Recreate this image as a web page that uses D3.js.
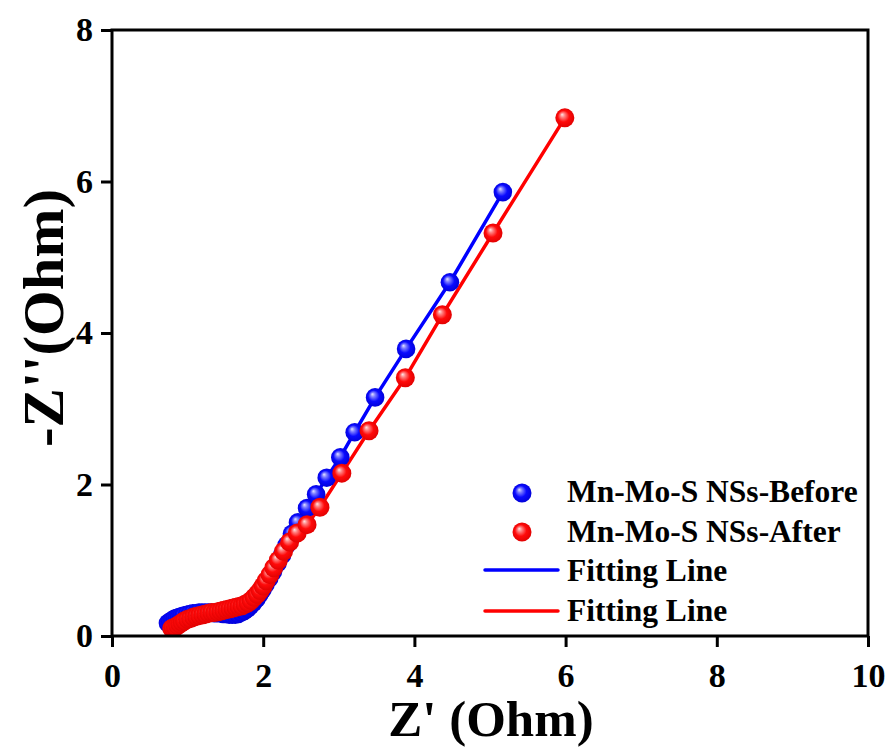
<!DOCTYPE html>
<html>
<head>
<meta charset="utf-8">
<script src="https://cdn.jsdelivr.net/npm/d3@7"></script>
<style>
  html, body { margin: 0; padding: 0; background: #fff; }
  svg { display: block; }
  text { font-family: "Liberation Serif", "Times New Roman", serif; font-weight: bold; fill: #000; }
</style>
</head>
<body>
<svg id="chart" width="892" height="749"></svg>
<script>
// Nyquist data: real part Z' and imaginary part -Z'' (Ohm)
const zReBefore = [0.74,0.77,0.80,0.83,0.86,0.89,0.92,0.95,0.99,1.03,1.07,1.11,1.15,1.19,1.23,1.27,1.31,1.35,1.39,1.43,1.47,1.51,1.55,1.59,1.63,1.67,1.71,1.75,1.79,1.83,1.87,1.91,1.95,1.99,2.03,2.08,2.13,2.19,2.25,2.31,2.38,2.46,2.58,2.70,2.84,3.02,3.21,3.48,3.89,4.47,5.17];
const zImBefore = [0.17,0.19,0.21,0.23,0.24,0.25,0.26,0.27,0.28,0.29,0.30,0.30,0.31,0.31,0.31,0.31,0.31,0.30,0.30,0.30,0.29,0.29,0.28,0.28,0.28,0.29,0.31,0.33,0.36,0.40,0.44,0.49,0.55,0.61,0.68,0.76,0.85,0.96,1.07,1.20,1.35,1.50,1.69,1.87,2.09,2.36,2.69,3.15,3.79,4.67,5.86];

const zReAfter = [0.79,0.81,0.84,0.87,0.90,0.93,0.96,1.00,1.04,1.08,1.12,1.16,1.20,1.24,1.28,1.32,1.36,1.40,1.44,1.48,1.52,1.56,1.60,1.64,1.68,1.72,1.76,1.80,1.84,1.88,1.92,1.96,2.00,2.04,2.09,2.14,2.20,2.27,2.35,2.45,2.58,2.75,3.04,3.40,3.88,4.37,5.04,5.99];
const zImAfter = [0.10,0.11,0.12,0.14,0.16,0.18,0.20,0.22,0.23,0.25,0.26,0.27,0.28,0.29,0.30,0.31,0.31,0.32,0.33,0.34,0.35,0.36,0.37,0.38,0.39,0.40,0.42,0.44,0.47,0.51,0.55,0.60,0.66,0.73,0.81,0.90,1.00,1.12,1.24,1.36,1.47,1.70,2.15,2.71,3.41,4.24,5.32,6.84];

const xTicks = [0, 2, 4, 6, 8, 10];
const yTicks = [0, 2, 4, 6, 8];

const seriesNames = ["Mn-Mo-S NSs-Before", "Mn-Mo-S NSs-After"];
const fitNames = ["Fitting Line", "Fitting Line"];

const svg = d3.select("#chart");
const plot = { left: 112, right: 868, top: 30, bottom: 636 };

const x = d3.scaleLinear().domain([0, 10]).range([plot.left, plot.right]);
const y = d3.scaleLinear().domain([0, 8]).range([plot.bottom, plot.top]);

// glossy sphere gradients
const defs = svg.append("defs");
function sphere(id, hi, mid, base, edge) {
  const g = defs.append("radialGradient").attr("id", id)
    .attr("cx", "50%").attr("cy", "50%").attr("r", "55%")
    .attr("fx", "35%").attr("fy", "32%");
  g.append("stop").attr("offset", "0%").attr("stop-color", hi);
  g.append("stop").attr("offset", "22%").attr("stop-color", mid);
  g.append("stop").attr("offset", "55%").attr("stop-color", base);
  g.append("stop").attr("offset", "100%").attr("stop-color", edge);
}
sphere("ballBlue", "#e4e4ff", "#7d7dff", "#0a0aff", "#0000d2");
sphere("ballRed", "#ffe6e6", "#ff8080", "#ff0a0a", "#dc0000");

defs.append("clipPath").attr("id", "plotClip")
  .append("rect")
  .attr("x", plot.left).attr("y", plot.top)
  .attr("width", plot.right - plot.left).attr("height", plot.bottom - plot.top);

const series = [
  { re: zReBefore, im: zImBefore, color: "#0000ff", fill: "url(#ballBlue)", r: 9.3 },
  { re: zReAfter,  im: zImAfter,  color: "#ff0000", fill: "url(#ballRed)",  r: 9.5 }
];

const layer = svg.append("g").attr("clip-path", "url(#plotClip)");

const line = d3.line().x(d => x(d[0])).y(d => y(d[1]));

// fitting lines underneath the markers
series.forEach(s => {
  const pts = s.re.map((v, i) => [v, s.im[i]]);
  layer.append("path")
    .attr("d", line(pts))
    .attr("fill", "none")
    .attr("stroke", s.color)
    .attr("stroke-width", 3.5)
    .attr("stroke-linejoin", "round");
});

// markers
series.forEach(s => {
  const pts = s.re.map((v, i) => [v, s.im[i]]);
  layer.append("g").selectAll("circle")
    .data(pts)
    .join("circle")
    .attr("cx", d => x(d[0]))
    .attr("cy", d => y(d[1]))
    .attr("r", s.r)
    .attr("fill", s.fill);
});

// axes
const axisColor = "#000";
const xAxis = svg.append("g")
  .attr("transform", `translate(0,${plot.bottom})`)
  .call(d3.axisBottom(x).tickValues(xTicks).tickFormat(d3.format("d")).tickSize(11).tickSizeOuter(0).tickPadding(16));
const yAxis = svg.append("g")
  .attr("transform", `translate(${plot.left},0)`)
  .call(d3.axisLeft(y).tickValues(yTicks).tickFormat(d3.format("d")).tickSize(11).tickSizeOuter(0).tickPadding(8));

[xAxis, yAxis].forEach(a => {
  a.select(".domain").remove();
  a.selectAll(".tick line").attr("stroke", axisColor).attr("stroke-width", 3);
  a.selectAll(".tick text")
    .style("font-family", "'Liberation Serif', 'Times New Roman', serif")
    .style("font-weight", "bold")
    .style("font-size", "34px")
    .attr("fill", "#000");
});

// frame
svg.append("rect")
  .attr("x", plot.left).attr("y", plot.top)
  .attr("width", plot.right - plot.left).attr("height", plot.bottom - plot.top)
  .attr("fill", "none").attr("stroke", axisColor).attr("stroke-width", 3);

// axis titles
svg.append("text")
  .attr("x", (plot.left + plot.right) / 2 + 1)
  .attr("y", 736)
  .attr("text-anchor", "middle")
  .style("font-size", "51px")
  .text("Z' (Ohm)");

svg.append("text")
  .attr("transform", "translate(63,318) rotate(-90) scale(1.05,1)")
  .attr("text-anchor", "middle")
  .style("font-size", "56px")
  .text("-Z''(Ohm)");

// legend
const legend = svg.append("g");
const legendRows = [
  { type: "ball", fill: "url(#ballBlue)", label: seriesNames[0], cy: 493, base: 502 },
  { type: "ball", fill: "url(#ballRed)",  label: seriesNames[1], cy: 532, base: 542 },
  { type: "line", color: "#0000ff", label: fitNames[0], cy: 570, base: 581 },
  { type: "line", color: "#ff0000", label: fitNames[1], cy: 611, base: 621 }
];
legendRows.forEach(row => {
  if (row.type === "ball") {
    legend.append("circle").attr("cx", 522).attr("cy", row.cy).attr("r", 9.5).attr("fill", row.fill);
  } else {
    legend.append("line")
      .attr("x1", 485).attr("x2", 558).attr("y1", row.cy).attr("y2", row.cy)
      .attr("stroke", row.color).attr("stroke-width", 3.5).attr("stroke-linecap", "round");
  }
  legend.append("text")
    .attr("x", 567).attr("y", row.base)
    .style("font-size", "31.5px")
    .text(row.label);
});
</script>
</body>
</html>
